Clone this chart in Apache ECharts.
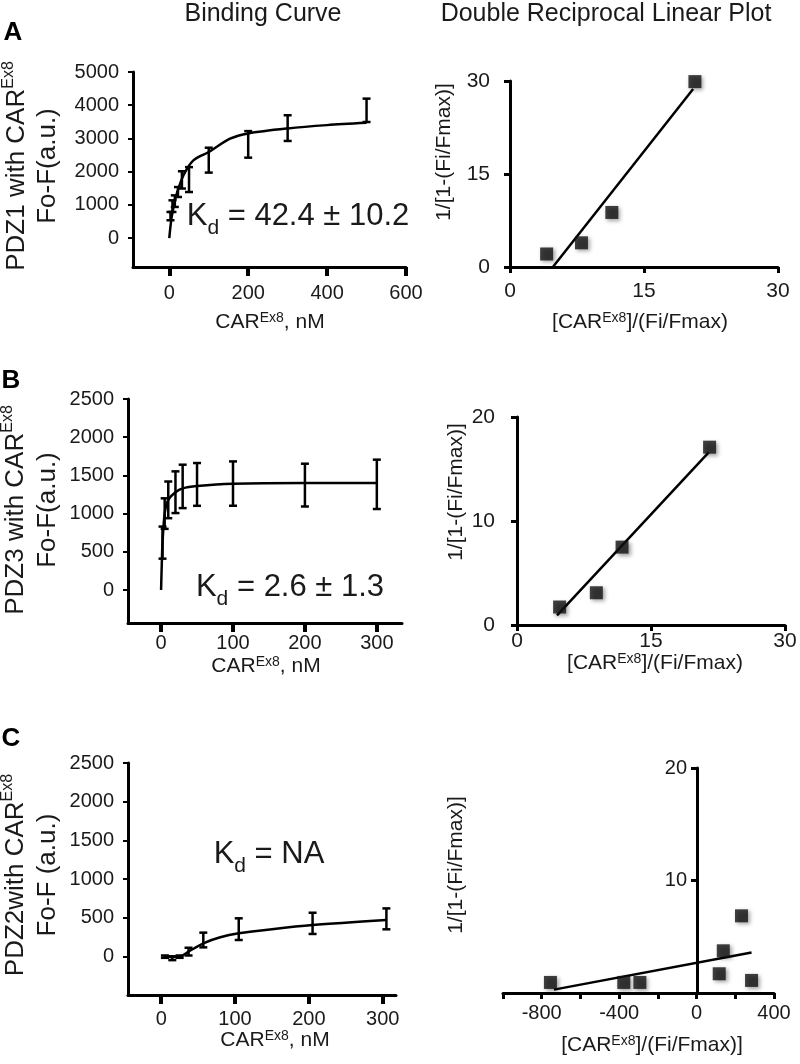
<!DOCTYPE html>
<html>
<head>
<meta charset="utf-8">
<script src="https://cdn.jsdelivr.net/npm/echarts@6/dist/echarts.min.js"></script>
<style>
  html, body { margin: 0; padding: 0; background: #fff; }
  #chart { width: 800px; height: 1064px; }
</style>
</head>
<body>
<div id="chart"></div>
<script>
// Binding curves (left column): fitted curve points + error bars [x, mean, sd]
const pdz1Curve = [[0, 0], [3, 350], [6, 630], [12, 1000], [19, 1340], [36, 1890], [61, 2340],
  [100, 2590], [154, 2990], [200, 3150], [300, 3300], [400, 3400], [500, 3470]];
const pdz1X = [3, 8, 14, 22, 32, 50, 100, 200, 300, 500];
const pdz1Mean = [660, 960, 1110, 1385, 1750, 1760, 2345, 2820, 3310, 3846];
const pdz1Err = [125, 175, 175, 150, 260, 375, 375, 400, 387, 352];

const pdz3Curve = [[0, 0], [1, 350], [2, 620], [5, 1000], [10, 1180], [20, 1280], [30, 1330],
  [50, 1360], [100, 1390], [200, 1400], [300, 1400]];
const pdz3X = [2, 5, 10, 20, 30, 50, 100, 200, 300];
const pdz3Mean = [620, 1000, 1180, 1280, 1356, 1382, 1393, 1373, 1383];
const pdz3Err = [210, 200, 240, 273, 284, 280, 290, 280, 323];

const pdz2Curve = [[5, 0], [15, -5], [25, 0], [37, 65], [57, 172], [80, 250], [105, 301],
  [150, 355], [205, 408], [305, 473]];
const pdz2X = [5, 15, 25, 37, 57, 105, 205, 305];
const pdz2Mean = [0, -20, 0, 65, 215, 355, 430, 488];
const pdz2Err = [15, 25, 15, 50, 95, 140, 137, 135];

// Double reciprocal plots (right column)
const recA_X = [4.1, 8.0, 11.4, 20.7];
const recA_Y = [2.1, 3.9, 8.8, 29.9];
const recA_Fit = [[4.8, 0], [20.5, 28.7]];

const recB_X = [4.77, 8.88, 11.76, 21.56];
const recB_Y = [1.73, 3.1, 7.49, 17.1];
const recB_Fit = [[4.48, 0.93], [21.46, 16.6]];

const recC_X = [-755, -376, -293, 117, 138, 232, 284];
const recC_Y = [0.94, 0.94, 0.94, 1.71, 3.75, 6.86, 1.12];
const recC_Fit = [[-737, 0.3], [284, 3.6]];

// tick labels
const ticksA_X = [0, 200, 400, 600];
const ticksA_Y = [0, 1000, 2000, 3000, 4000, 5000];
const ticksB_X = [0, 100, 200, 300];
const ticksB_Y = [0, 500, 1000, 1500, 2000, 2500];
const ticksC_X = [0, 100, 200, 300];
const ticksC_Y = [0, 500, 1000, 1500, 2000, 2500];
const ticksRC_X = [-800, -400, 0, 400];
const ticksRC_Y = [10, 20];

const FONT = "'Liberation Sans', Arial, sans-serif";
const INK = '#1a1a1a';
const plain = v => String(v);

const chart = echarts.init(document.getElementById('chart'));

const zip3 = (xs, ms, es) => xs.map((x, i) => [x, ms[i], es[i]]);
const zip2 = (xs, ys) => xs.map((x, i) => [x, ys[i]]);

function errorBars(params, api) {
  const x = api.value(0), m = api.value(1), e = api.value(2);
  const top = api.coord([x, m + e]);
  const bot = api.coord([x, m - e]);
  const cap = 4;
  const st = { stroke: '#000', lineWidth: 2.5 };
  return {
    type: 'group',
    children: [
      { type: 'line', shape: { x1: top[0], y1: top[1], x2: bot[0], y2: bot[1] }, style: st },
      { type: 'line', shape: { x1: top[0] - cap, y1: top[1], x2: top[0] + cap, y2: top[1] }, style: st },
      { type: 'line', shape: { x1: bot[0] - cap, y1: bot[1], x2: bot[0] + cap, y2: bot[1] }, style: st }
    ]
  };
}

function label(size, margin, custom) {
  const l = { color: INK, fontSize: size, fontFamily: FONT, margin: margin, formatter: plain };
  if (custom) l.customValues = custom;
  return l;
}

function axisBase(opts) {
  return Object.assign({
    type: 'value',
    splitLine: { show: false },
    axisLine: { show: true, onZero: false, lineStyle: { color: '#000', width: 3 } },
    axisTick: { show: true, length: 6, lineStyle: { color: '#000', width: 3 } },
    axisLabel: label(20, 14)
  }, opts);
}

const grids = [
  { left: 133, top: 72, width: 273, height: 195 },
  { left: 510, top: 81, width: 268, height: 186 },
  { left: 128, top: 399, width: 274, height: 224 },
  { left: 517, top: 417, width: 268, height: 208 },
  { left: 128, top: 763, width: 268, height: 232 },
  { left: 503, top: 768, width: 271, height: 225 },
  // helper grid for the C-right y axis, which sits at x = 0
  { left: 697, top: 768, width: 77, height: 225 }
];

const leftXTick = c => ({ length: 9, customValues: c, lineStyle: { color: '#000', width: 4 } });
const leftYTick = c => ({ length: 5, customValues: c, lineStyle: { color: '#000', width: 2 } });

const xAxes = [
  axisBase({ gridIndex: 0, min: -92, max: 600, axisTick: leftXTick(ticksA_X), axisLabel: label(20, 16, ticksA_X) }),
  axisBase({ gridIndex: 1, min: 0, max: 30, interval: 15, axisLabel: label(21, 14) }),
  axisBase({ gridIndex: 2, min: -46, max: 335, axisTick: leftXTick(ticksB_X), axisLabel: label(20, 10, ticksB_X) }),
  axisBase({ gridIndex: 3, min: 0, max: 30, interval: 15, axisLabel: label(21, 6) }),
  axisBase({ gridIndex: 4, min: -45, max: 318, axisTick: leftXTick(ticksC_X), axisLabel: label(20, 14, ticksC_X) }),
  axisBase({ gridIndex: 5, min: -1000, max: 400, interval: 200, axisLabel: label(20, 10, ticksRC_X) }),
  { type: 'value', gridIndex: 6, min: 0, max: 400, show: false }
];

const yAxes = [
  axisBase({ gridIndex: 0, min: -873, max: 5000, axisTick: leftYTick(ticksA_Y), axisLabel: label(20, 14, ticksA_Y) }),
  axisBase({ gridIndex: 1, min: 0, max: 30, interval: 15, axisLabel: label(21, 20) }),
  axisBase({ gridIndex: 2, min: -432, max: 2500, axisTick: leftYTick(ticksB_Y), axisLabel: label(20, 14, ticksB_Y) }),
  axisBase({ gridIndex: 3, min: 0, max: 20, interval: 10, axisLabel: label(21, 22) }),
  axisBase({ gridIndex: 4, min: -495, max: 2500, axisTick: leftYTick(ticksC_Y), axisLabel: label(20, 14, ticksC_Y) }),
  { type: 'value', gridIndex: 5, min: 0, max: 20, show: false },
  axisBase({ gridIndex: 6, min: 0, max: 20,
    axisTick: { length: 6, customValues: ticksRC_Y, lineStyle: { color: '#000', width: 3 } },
    axisLabel: label(20, 10, ticksRC_Y) })
];

const curveStyle = { color: '#000', width: 2.5 };
const squareStyle = {
  color: '#111', shadowBlur: 4, shadowColor: 'rgba(0,0,0,0.45)', shadowOffsetX: 2, shadowOffsetY: 2
};

function curve(i, data) {
  return { type: 'line', xAxisIndex: i, yAxisIndex: i, data: data, smooth: 0.3,
    showSymbol: false, symbol: 'none', lineStyle: curveStyle, silent: true, z: 3 };
}
function bars(i, data) {
  return { type: 'custom', xAxisIndex: i, yAxisIndex: i, data: data, renderItem: errorBars, z: 4 };
}
function squares(i, data) {
  return { type: 'scatter', xAxisIndex: i, yAxisIndex: i, data: data, symbol: 'rect',
    symbolSize: 13, itemStyle: squareStyle, z: 4 };
}
function fit(i, data) {
  return { type: 'line', xAxisIndex: i, yAxisIndex: i, data: data, symbol: 'none',
    lineStyle: curveStyle, z: 3 };
}

const series = [
  curve(0, pdz1Curve), bars(0, zip3(pdz1X, pdz1Mean, pdz1Err)),
  fit(1, recA_Fit), squares(1, zip2(recA_X, recA_Y)),
  curve(2, pdz3Curve), bars(2, zip3(pdz3X, pdz3Mean, pdz3Err)),
  fit(3, recB_Fit), squares(3, zip2(recB_X, recB_Y)),
  curve(4, pdz2Curve), bars(4, zip3(pdz2X, pdz2Mean, pdz2Err)),
  fit(5, recC_Fit), squares(5, zip2(recC_X, recC_Y))
];

const sup = { fontSize: 14, verticalAlign: 'top', fontFamily: FONT, fill: INK };
// subscript: top padding pushes the glyph below the main baseline
const sub = { fontSize: 21, verticalAlign: 'bottom', padding: [24, 0, 0, 0], fontFamily: FONT, fill: INK };

function txt(x, y, text, size, extra) {
  return Object.assign({
    type: 'text', x: x, y: y, silent: true,
    style: { text: text, fontSize: size, fontFamily: FONT, fill: INK,
      align: 'center', verticalAlign: 'middle',
      rich: { sup: sup, sub: sub, base: { fontSize: size, fontFamily: FONT, fill: INK } } }
  }, extra || {});
}
function vtxt(x, y, text, size, lh) {
  const el = txt(x, y, text, size, { rotation: Math.PI / 2 });
  el.style.lineHeight = lh;
  el.style.rich.base.lineHeight = lh;
  el.style.rich.sup = Object.assign({}, sup, { fontSize: 16 });
  return el;
}

const graphic = [
  txt(263, 14, 'Binding Curve', 25),
  txt(606, 14, 'Double Reciprocal Linear Plot', 25),
  txt(13, 33, 'A', 26),
  txt(11, 381, 'B', 26),
  txt(11, 739, 'C', 26),

  vtxt(32, 166, '{base|PDZ1 with CAR}{sup|Ex8}\n{base|Fo-F(a.u.)}', 26, 31),
  vtxt(32, 510, '{base|PDZ3 with CAR}{sup|Ex8}\n{base|Fo-F(a.u.)}', 26, 32),
  vtxt(32, 875, '{base|PDZ2with CAR}{sup|Ex8}\n{base|Fo-F (a.u.)}', 26, 32),
  vtxt(444, 152, '1/[1-(Fi/Fmax)]', 21, 24),
  vtxt(456, 492, '1/[1-(Fi/Fmax)]', 21, 24),
  vtxt(456, 865, '1/[1-(Fi/Fmax)]', 21, 24),

  txt(270, 322, 'CAR{sup|Ex8}, nM', 21),
  txt(640, 322, '[CAR{sup|Ex8}]/(Fi/Fmax)', 21),
  txt(266, 666, 'CAR{sup|Ex8}, nM', 21),
  txt(655, 663, '[CAR{sup|Ex8}]/(Fi/Fmax)', 21),
  txt(275, 1040, 'CAR{sup|Ex8}, nM', 21),
  txt(652, 1045, '[CAR{sup|Ex8}]/(Fi/Fmax)]', 21),

  txt(298, 216, 'K{sub|d} = 42.4 ± 10.2', 31),
  txt(290, 587, 'K{sub|d} = 2.6 ± 1.3', 31),
  txt(269, 854, 'K{sub|d} = NA', 31)
];
// bold panel letters
[2, 3, 4].forEach(i => { graphic[i].style.fontWeight = 'bold'; graphic[i].style.fill = '#000'; });

chart.setOption({
  backgroundColor: '#fff',
  animation: false,
  grid: grids,
  xAxis: xAxes,
  yAxis: yAxes,
  series: series,
  graphic: graphic
});

window.addEventListener('resize', () => chart.resize());
</script>
</body>
</html>
